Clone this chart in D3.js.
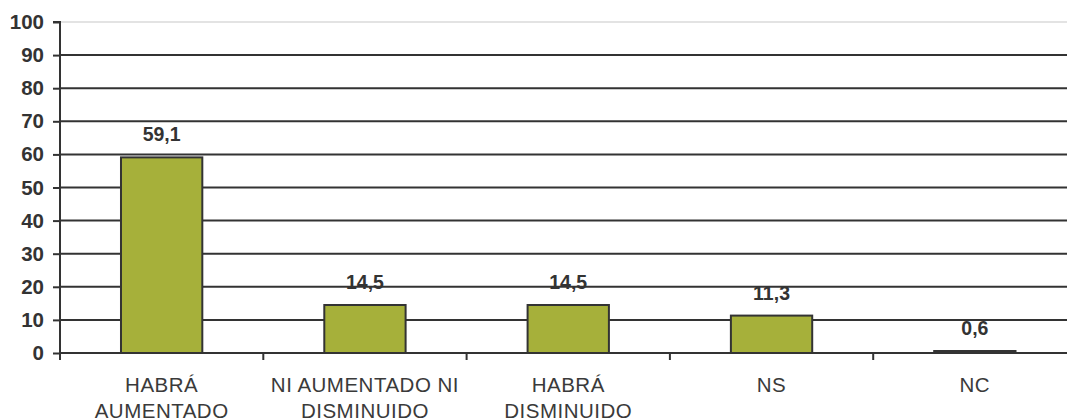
<!DOCTYPE html>
<html><head><meta charset="utf-8">
<script src="https://cdn.jsdelivr.net/npm/d3@7"></script>
<style>html,body{margin:0;padding:0;background:#fff;overflow:hidden}</style>
</head><body>
<svg id="c" width="1067" height="418"></svg>
<script>
const categories = [["HABRÁ","AUMENTADO"],["NI AUMENTADO NI","DISMINUIDO"],["HABRÁ","DISMINUIDO"],["NS"],["NC"]];
const values = [59.1, 14.5, 14.5, 11.3, 0.6];
const valueLabels = ["59,1","14,5","14,5","11,3","0,6"];
const yTicks = [0,10,20,30,40,50,60,70,80,90,100];

const svg = d3.select("#c");
const font = "'Liberation Sans', Arial, sans-serif";
const dark = "#333333";
const x0 = 60, x1 = 1076.5, yTop = 22, yBot = 353;
const x = d3.scaleBand().domain(d3.range(values.length)).range([x0, x1]).paddingInner(0.6).paddingOuter(0.3);
const y = d3.scaleLinear().domain([0, 100]).range([yBot, yTop]);

// gridlines
svg.append("g").selectAll("line").data(yTicks.filter(t => t > 0)).join("line")
  .attr("x1", x0).attr("x2", 1067)
  .attr("y1", d => y(d)).attr("y2", d => y(d))
  .attr("stroke", d => d === 100 ? "#c8c8c8" : dark)
  .attr("stroke-width", d => d === 100 ? 1.2 : 2);

// bars
svg.append("g").selectAll("rect").data(values).join("rect")
  .attr("x", (d, i) => x(i)).attr("width", x.bandwidth())
  .attr("y", d => y(d)).attr("height", d => yBot - y(d))
  .attr("fill", "#a6b03a").attr("stroke", dark).attr("stroke-width", 2);

// y axis
const yAxis = d3.axisLeft(y).tickValues(yTicks).tickSize(7).tickPadding(9);
const ya = svg.append("g").attr("transform", `translate(${x0},0)`).call(yAxis);
ya.select(".domain").attr("stroke", dark).attr("stroke-width", 2).attr("d", `M-7,${yTop}H0V${yBot}`);
ya.selectAll(".tick line").attr("stroke", dark).attr("stroke-width", 2);
ya.selectAll(".tick text").attr("font-family", font).attr("font-size", 20.5).attr("font-weight", "bold").attr("fill", dark);

// x axis baseline and ticks
const xa = svg.append("g");
xa.append("line").attr("x1", x0).attr("x2", 1067).attr("y1", yBot).attr("y2", yBot).attr("stroke", dark).attr("stroke-width", 2);
const step = x.step();
xa.selectAll("line.t").data(d3.range(values.length + 1)).join("line").attr("class", "t")
  .attr("x1", i => x0 + i * step).attr("x2", i => x0 + i * step)
  .attr("y1", yBot).attr("y2", yBot + 7).attr("stroke", dark).attr("stroke-width", 2);

// category labels
const cl = svg.append("g").selectAll("text").data(categories).join("text")
  .attr("x", (d, i) => x(i) + x.bandwidth() / 2).attr("y", 392)
  .attr("text-anchor", "middle").attr("font-family", font).attr("font-size", 20.5)
  .attr("letter-spacing", 0.5).attr("fill", "#3a3a3a");
cl.selectAll("tspan").data(d => d).join("tspan")
  .attr("x", function() { return d3.select(this.parentNode).attr("x"); })
  .attr("dy", (d, j) => j === 0 ? 0 : 26).text(d => d);

// value labels
svg.append("g").selectAll("text").data(values).join("text")
  .attr("x", (d, i) => x(i) + x.bandwidth() / 2).attr("y", d => y(d) - 16)
  .attr("text-anchor", "middle").attr("font-family", font).attr("font-size", 19.5).attr("font-weight", "bold").attr("fill", dark)
  .text((d, i) => valueLabels[i]);
</script>
</body></html>
